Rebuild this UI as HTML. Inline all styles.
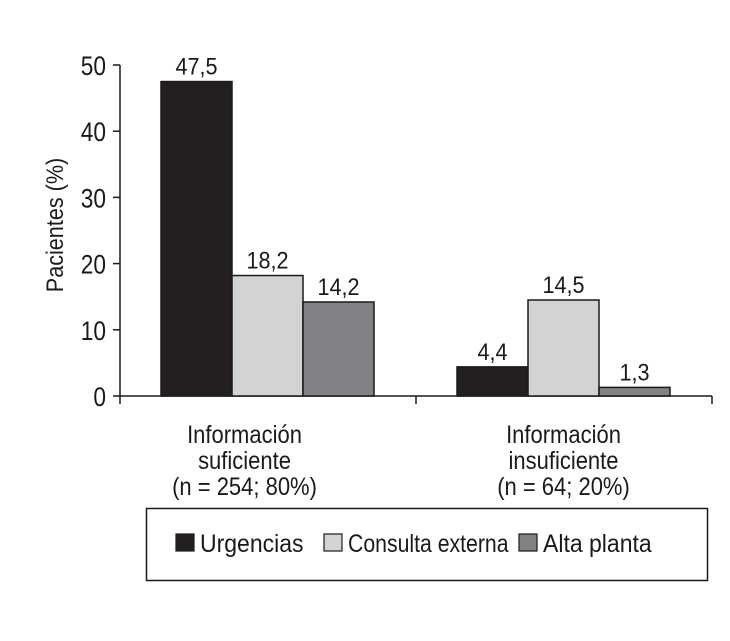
<!DOCTYPE html>
<html><head><meta charset="utf-8"><style>
html,body{margin:0;padding:0;background:#fff;}
svg text{font-family:"Liberation Sans",sans-serif;fill:#1a1a1a;}
</style></head><body>
<svg id="chart" width="730" height="636" viewBox="0 0 730 636" xmlns="http://www.w3.org/2000/svg"></svg>
<script>
const categories = [["Información","suficiente","(n = 254; 80%)"],["Información","insuficiente","(n = 64; 20%)"]];
const seriesNames = ["Urgencias","Consulta externa","Alta planta"];
const urgencias = [47.5, 4.4];
const consultaExterna = [18.2, 14.5];
const altaPlanta = [14.2, 1.3];
const valueLabels = [["47,5","4,4"],["18,2","14,5"],["14,2","1,3"]];
const yTicks = [0,10,20,30,40,50];

const series = [urgencias, consultaExterna, altaPlanta];
const colors = ["#231f20","#d2d3d5","#808285"];
const svg = document.getElementById('chart');
const NS = "http://www.w3.org/2000/svg";
function el(tag, attrs, parent){const e=document.createElementNS(NS,tag);for(const k in attrs)e.setAttribute(k,attrs[k]);(parent||svg).appendChild(e);return e;}
function txt(x,y,s,size,anchor,sx,rot){
  const t=el('text',{x:0,y:0,'text-anchor':anchor,'font-size':size,transform:'translate('+x+','+y+')'+(rot?' rotate('+rot+')':'')+' scale('+sx+',1)'});
  t.textContent=s;return t;
}
const y0=396, y50=65;
function yScale(v){return y0-(y0-y50)*v/50;}
const axL=120, axR=712, groupW=(axR-axL)/categories.length, barW=71;
function xBar(g,s){return axL+groupW*g+41+barW*s;}
const labelShift=[-23,0];

const ya=el('line',{x1:axL,y1:y50,x2:axL,y2:y0,stroke:'#1a1a1a','stroke-width':1.5});


const xa=el('line',{x1:axL,y1:y0,x2:axR,y2:y0,stroke:'#1a1a1a','stroke-width':1.5});


yTicks.forEach(t=>{
  const y=yScale(t);
  const tk=el('line',{x1:axL-7,y1:y,x2:axL,y2:y,stroke:'#1a1a1a','stroke-width':1.5});
  
  
  const tl=txt(axL-14,y+10,String(t),27,'end',0.84);
  
  
});
for(let i=0;i<=categories.length;i++){
  const x=axL+groupW*i;
  const tk=el('line',{x1:x,y1:y0,x2:x,y2:y0+8,stroke:'#1a1a1a','stroke-width':1.5});
  
  
}
const yt=txt(63,225,'Pacientes (%)',24,'middle',0.9,-90);



series.forEach((vals,s)=>{
  vals.forEach((v,g)=>{
    const x=xBar(g,s), y=yScale(v);
    const r=el('rect',{x:x,y:y,width:barW,height:y0-y,fill:colors[s],stroke:'#1a1a1a','stroke-width':1.5});
    
    
    const t=txt(x+barW/2,y-7,valueLabels[s][g],24,'middle',0.9);
    
    
  });
});
categories.forEach((lines,g)=>{
  const cx=xBar(g,1)+barW/2+labelShift[g];
  lines.forEach((ln,i)=>{
    const t=txt(cx,443+i*26,ln,25,'middle',0.88);
    
    
  });
});
const lb=el('rect',{x:146.5,y:508.5,width:561,height:72,fill:'none',stroke:'#1a1a1a','stroke-width':1.5});


const lx=[176,324,519];
seriesNames.forEach((n,i)=>{
  const sq=el('rect',{x:lx[i],y:534,width:18,height:17,fill:colors[i],stroke:'#1a1a1a','stroke-width':1.2});
  
  
  const t=txt(lx[i]+24,552,n,25,i===1?0.86:0.9,'start');
  t.setAttribute('text-anchor','start');
  t.setAttribute('transform','translate('+(lx[i]+24)+',552) scale('+(i===1?0.85:0.92)+',1)');
  
  
});
</script>
</body></html>
